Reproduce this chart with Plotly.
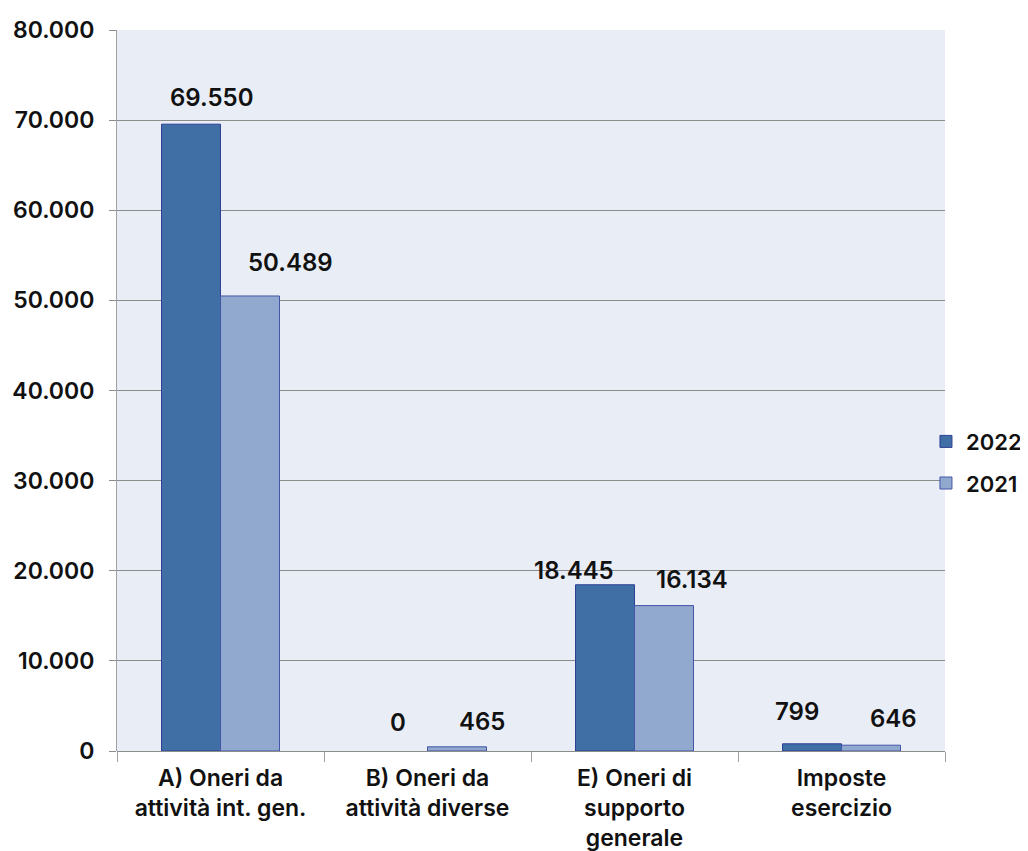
import plotly.graph_objects as go

categories = [
    "A) Oneri da<br>attività int. gen.",
    "B) Oneri da<br>attività diverse",
    "E) Oneri di<br>supporto<br>generale",
    "Imposte<br>esercizio",
]
values_2022 = [69550, 0, 18445, 799]
values_2021 = [50489, 465, 16134, 646]
y_ticks = [0, 10000, 20000, 30000, 40000, 50000, 60000, 70000, 80000]

FONT = "Inter, Roboto, Liberation Sans, sans-serif"
BAR_PX = 59  # approx width of one bar in pixels

# manual label nudges (pixels) relative to bar centre / bar top, as in the original
label_dx_2022 = [20, 0, -31, -15]
label_dy_2022 = [27, 29, 14, 32]
label_dx_2021 = [40, 25, 28, 22]
label_dy_2021 = [33, 25, 26, 27]

fig = go.Figure()
fig.add_trace(go.Bar(
    x=categories, y=values_2022, name="2022", legendgroup="a",
    marker=dict(color="#3F6FA5", line=dict(color="#2E3F94",
                width=[1 if v else 0 for v in values_2022])),
))
fig.add_trace(go.Bar(
    x=categories, y=values_2021, name="2021", legendgroup="b",
    marker=dict(color="#91A8CF", line=dict(color="#4455A8", width=1)),
))

# value labels above bars
series = (
    (values_2022, -BAR_PX / 2, label_dx_2022, label_dy_2022),
    (values_2021, BAR_PX / 2, label_dx_2021, label_dy_2021),
)
for vals, shift, dxs, dys in series:
    for cat, v, dx, dy in zip(categories, vals, dxs, dys):
        fig.add_annotation(
            x=cat, y=v, xshift=shift + dx, yshift=dy, yanchor="middle",
            text=f"{v:,}".replace(",", "."), showarrow=False,
            font=dict(family=FONT, size=24, color="#111111", weight=600),
        )

fig.update_layout(
    width=1028, height=851,
    margin=dict(l=109, r=91, t=22, b=108, autoexpand=False),
    paper_bgcolor="white",
    plot_bgcolor="#E9EDF5",
    barmode="group",
    bargap=0.43,
    bargroupgap=0,
    separators=",.",
    font=dict(family=FONT, size=22, color="#111111"),
    legend=dict(
        x=0.977, xanchor="left", y=0.4, yanchor="middle",
        font=dict(family=FONT, size=22, color="#111111", weight=600),
        tracegroupgap=10, itemwidth=30,
        bgcolor="rgba(0,0,0,0)",
    ),
    showlegend=True,
)
fig.update_xaxes(
    showline=False, automargin=False,
    ticks="outside", tickson="boundaries", ticklen=10, tickcolor="#A0A0A0",
    ticklabelstandoff=11,
    tickfont=dict(family=FONT, size=23, color="#111111", weight=600),
    showgrid=False,
)
fig.update_yaxes(
    range=[0, 80000], tickvals=y_ticks, tickformat=",d", automargin=False,
    showgrid=True, gridcolor="#8C8C8C", gridwidth=1,
    showline=True, linecolor="#A0A0A0", linewidth=1,
    zeroline=True, zerolinecolor="#8C8C8C", zerolinewidth=1,
    ticks="outside", ticklen=7, tickcolor="#8C8C8C",
    ticklabelstandoff=10,
    tickfont=dict(family=FONT, size=23, color="#111111", weight=600),
)

fig.write_html("out.html")
